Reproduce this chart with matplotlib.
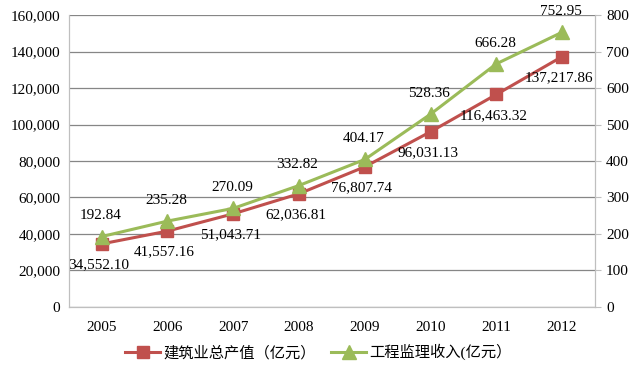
import matplotlib.pyplot as plt
from matplotlib.ticker import FuncFormatter

# data
years = ["2005", "2006", "2007", "2008", "2009", "2010", "2011", "2012"]
output_value = [34552.10, 41557.16, 51043.71, 62036.81, 76807.74,
                96031.13, 116463.32, 137217.86]
supervision_income = [192.84, 235.28, 270.09, 332.82, 404.17,
                      528.36, 666.28, 752.95]

red = "#C0504D"
green = "#9BBB59"
grid_color = "#868686"

plt.rcParams["font.family"] = ["Liberation Serif", "Noto Sans CJK SC"]

fig = plt.figure(figsize=(6.37, 3.68), dpi=100)
ax = fig.add_axes([0.108, 0.166, 0.826, 0.793])
ax2 = ax.twinx()

x = list(range(len(years)))

ax.plot(x, output_value, color=red, lw=2.2, marker="s", ms=8.5,
        label="建筑业总产值（亿元）", zorder=3)
ax2.plot(x, supervision_income, color=green, lw=2.2, marker="^", ms=9.5,
         label="工程监理收入(亿元）", zorder=3)

for xi, v in zip(x, output_value):
    ax.annotate(f"{v:,.2f}", (xi, v), xytext=(-2, -15), textcoords="offset points",
                ha="center", va="center", fontsize=11)
for xi, v in zip(x, supervision_income):
    ax2.annotate(f"{v:.2f}", (xi, v), xytext=(-1, 15), textcoords="offset points",
                 ha="center", va="center", fontsize=11)

ax.set_xlim(-0.5, len(years) - 0.5)
ax.set_ylim(0, 160000)
ax2.set_ylim(0, 800)
ax.set_yticks(range(0, 160001, 20000))
ax2.set_yticks(range(0, 801, 100))
ax.yaxis.set_major_formatter(FuncFormatter(lambda v, p: f"{int(v):,}"))
ax.set_xticks(x)
ax.set_xticklabels(years)

ax.grid(axis="y", color=grid_color, lw=0.9)
ax.set_axisbelow(True)

for a in (ax, ax2):
    a.spines["top"].set_visible(False)
    for s in ("left", "right", "bottom"):
        a.spines[s].set_color("#BFBFBF")
ax.tick_params(axis="y", length=0, labelsize=11, pad=6)
ax.tick_params(axis="x", length=0, labelsize=11, pad=10)
ax2.tick_params(axis="y", length=4, color="#BFBFBF", labelsize=11, pad=4)

h1, l1 = ax.get_legend_handles_labels()
h2, l2 = ax2.get_legend_handles_labels()
fig.legend(h1 + h2, l1 + l2, loc="center", bbox_to_anchor=(0.5, 0.043),
           ncol=2, frameon=False, fontsize=11, handlelength=2.3,
           columnspacing=1.0, handletextpad=0.2)

fig.savefig("out.png", dpi=100)
